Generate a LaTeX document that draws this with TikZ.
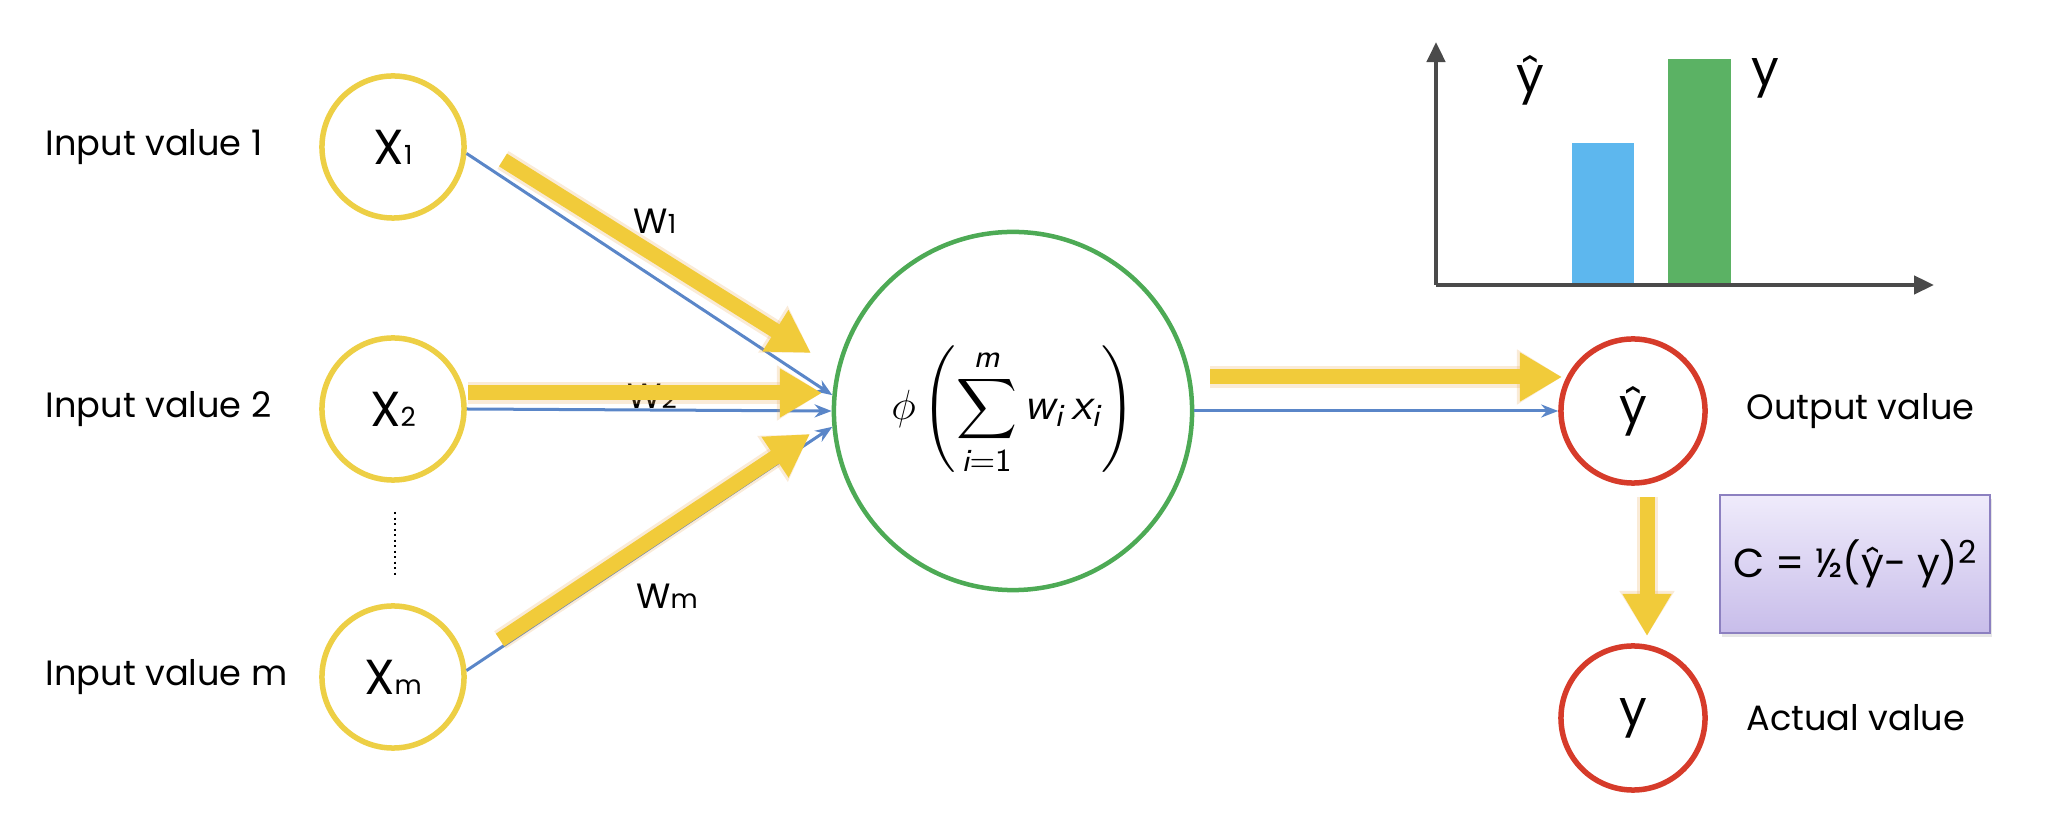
\documentclass[tikz,border=0pt]{standalone}
\usepackage{amsmath}
\usepackage{fontspec}
\setmainfont{Poppins}
\usetikzlibrary{arrows.meta, positioning, shadows}

\definecolor{ringyellow}{HTML}{EDCF45}
\definecolor{arrowyellow}{HTML}{F1CB3A}
\definecolor{glow}{HTML}{E8A24A}
\definecolor{wireblue}{HTML}{5A86C8}
\definecolor{ringgreen}{HTML}{4DAA55}
\definecolor{ringred}{HTML}{D63B2A}
\definecolor{axisgray}{HTML}{4A4A4A}
\definecolor{barblue}{HTML}{5DB7EE}
\definecolor{bargreen}{HTML}{5BB264}
\definecolor{boxtop}{HTML}{EFEBFB}
\definecolor{boxbottom}{HTML}{C8BDEA}
\definecolor{boxline}{HTML}{8C80C0}

\newcommand{\lowsub}[1]{{\fontsize{7.5}{8}\selectfont #1}}
\newcommand{\sv}[1]{\text{\sffamily\itshape #1}}

\begin{document}
\begin{tikzpicture}[x=0.01cm, y=-0.01cm,
		innode/.style={circle, draw=ringyellow, line width=0.055cm, fill=white,
			minimum size=1.42cm, inner sep=0pt, font=\fontsize{14}{16}\selectfont},
		outnode/.style={circle, draw=ringred, line width=0.055cm, fill=white,
			minimum size=1.44cm, inner sep=0pt, font=\fontsize{14}{16}\selectfont},
		sumnode/.style={circle, draw=ringgreen, line width=0.045cm, fill=white,
			minimum size=3.58cm, inner sep=0pt, font=\fontsize{13}{15}\selectfont},
		lbl/.style={inner sep=0pt, font=\fontsize{10}{12}\selectfont},
		wlbl/.style={inner sep=0pt, font=\fontsize{10}{12}\selectfont},
		costbox/.style={draw=boxline, line width=0.02cm, top color=boxtop, bottom color=boxbottom,
			inner xsep=0.05cm, minimum width=2.7cm, minimum height=1.37cm, font=\fontsize{11.5}{13}\selectfont,
			drop shadow={opacity=0.2, shadow xshift=0.02cm, shadow yshift=-0.04cm}},
		wire/.style={draw=wireblue, line width=0.03cm, -{Stealth[length=0.17cm, width=0.13cm]}},
		garrow/.style={draw=arrowyellow, line width=0.15cm, -{Triangle[length=0.42cm, width=0.46cm]},
			preaction={draw=glow, opacity=0.22, line width=0.21cm, -{Triangle[length=0.45cm, width=0.52cm]}}},
		axisline/.style={draw=axisgray, line width=0.045cm, -{Triangle[length=0.2cm, width=0.18cm]}}
		]
		\useasboundingbox (0,0) rectangle (2048,828);

		% inputs
		\node[innode] (x1) at (393,147) {X\lowsub{1}};
		\node[innode] (x2) at (393,409) {X\lowsub{2}};
		\node[innode] (xm) at (393,677) {X\lowsub{m}};
		\node[lbl, anchor=west] (l1) at (45,147) {Input value 1};
		\node[lbl, anchor=west] (l2) at (45,409) {Input value 2};
		\node[lbl, anchor=west] (lm) at (45,677) {Input value m};
		\draw[densely dotted, line width=0.02cm] (395,512) -- (395,578);

		% weights
		\node[wlbl] (w1) at (655,221) {W\lowsub{1}};
		\node[wlbl] (w2) at (652,396) {W\lowsub{2}};
		\node[wlbl] (wm) at (667,596) {W\lowsub{m}};

		% neuron and outputs
		\node[sumnode] (sum) at (1013,411)
			{$\displaystyle \phi\left(\sum_{\sv{i}\textsf{=1}}^{\sv{m}} \sv{w}_{\sv{i}}\,\sv{x}_{\sv{i}}\right)$};
		\node[outnode] (yhat) at (1633,411) {ŷ};
		\node[outnode] (yact) at (1633,718) {y};
		\node[lbl, right=0.38cm of yhat] (lout) {Output value};
		\node[lbl, right=0.38cm of yact] (lact) {Actual value};
		\node[costbox] (cost) at (1855,564) {C = ½(ŷ- y)\raisebox{0.62ex}{\fontsize{9}{10}\selectfont 2}};

		\foreach \s/\t in {x1.-5/sum.175, x2.east/sum.west, xm.5/sum.185, sum.east/yhat.west}
		\draw[wire] (\s) -- (\t);

		\coordinate (g1s) at (503,160);
		\coordinate (g1e) at (811,353);
		\coordinate (g2s) at (468,393);
		\coordinate (g2e) at (822,393);
		\coordinate (gms) at (500,640);
		\coordinate (gme) at (810,434);
		\coordinate (gos) at (1210,377);
		\coordinate (goe) at (1562,377);
		\coordinate (gds) at (1647,497);
		\coordinate (gde) at (1647,636);
		\foreach \s/\t in {g1s/g1e, g2s/g2e, gms/gme, gos/goe, gds/gde}
		\draw[garrow] (\s) -- (\t);

		% bar chart
		\coordinate (origin) at (1436,285);
		\fill[barblue] (1572,143) rectangle (1634,285);
		\fill[bargreen] (1668,59) rectangle (1731,285);
		\draw[axisline] (origin) -- (1436,42);
		\draw[axisline] (origin) -- (1934,285);
		\node[outnode, draw=none, fill=none] (chat) at (1530,80) {ŷ};
		\node[outnode, draw=none, fill=none] (cact) at (1765,78) {y};
	\end{tikzpicture}
\end{document}
